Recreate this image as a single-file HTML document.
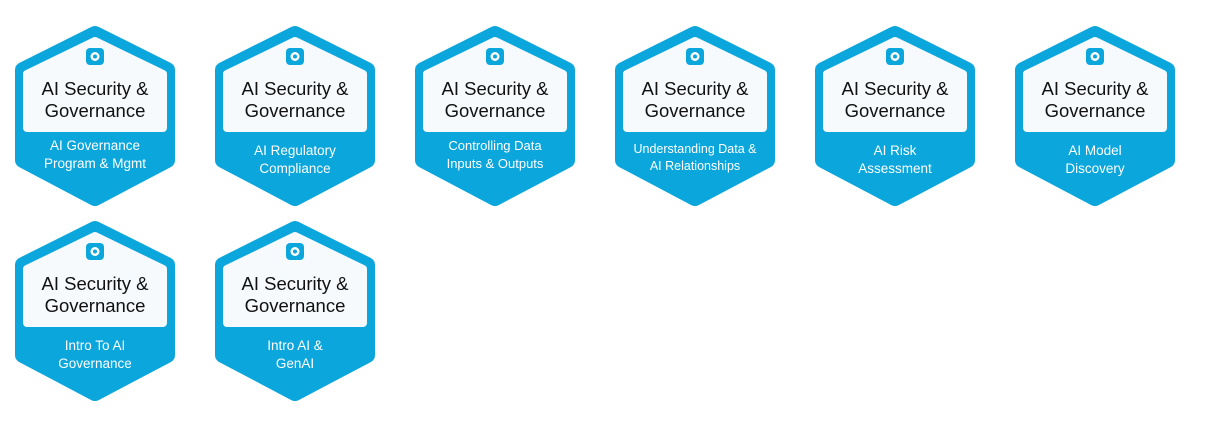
<!DOCTYPE html>
<html><head><meta charset="utf-8"><style>
html,body{margin:0;padding:0;background:#fff;width:1230px;height:430px;overflow:hidden}
svg{display:block}
text{font-family:"Liberation Sans",sans-serif;text-anchor:middle}
.t{font-size:18.5px;fill:#111}
.s{fill:#fff}
</style></head><body>
<svg width="1230" height="430" viewBox="0 0 1230 430">
<defs>
<g id="b">
<polygon points="95,34 167,70 167,160 95,198 23,160 23,70" fill="#0aa6dc" stroke="#0aa6dc" stroke-width="16" stroke-linejoin="round"/>
<polygon points="95,41 163,74 163,128 27,128 27,74" fill="#f7fafc" stroke="#f7fafc" stroke-width="8" stroke-linejoin="round"/>
<rect x="86" y="48" width="18" height="17" rx="4" fill="#0aa6dc"/>
<circle cx="95" cy="56.5" r="4.5" fill="#fff"/>
<circle cx="95" cy="56.5" r="2" fill="#0aa6dc"/>
<text class="t" x="95" y="95">AI Security &amp;</text>
<text class="t" x="95" y="117">Governance</text>
</g>
</defs>
<g transform="translate(0,0)"><use href="#b"/><text class="s" font-size="13.5" x="95" y="150">AI Governance</text><text class="s" font-size="13.5" x="95" y="168">Program &amp; Mgmt</text></g>
<g transform="translate(200,0)"><use href="#b"/><text class="s" font-size="13.5" x="95" y="155">AI Regulatory</text><text class="s" font-size="13.5" x="95" y="173">Compliance</text></g>
<g transform="translate(400,0)"><use href="#b"/><text class="s" font-size="13" x="95" y="150">Controlling Data</text><text class="s" font-size="13" x="95" y="168">Inputs &amp; Outputs</text></g>
<g transform="translate(600,0)"><use href="#b"/><text class="s" font-size="12.5" x="95" y="153">Understanding Data &amp;</text><text class="s" font-size="12.5" x="95" y="170">AI Relationships</text></g>
<g transform="translate(800,0)"><use href="#b"/><text class="s" font-size="13.5" x="95" y="155">AI Risk</text><text class="s" font-size="13.5" x="95" y="173">Assessment</text></g>
<g transform="translate(1000,0)"><use href="#b"/><text class="s" font-size="13.5" x="95" y="155">AI Model</text><text class="s" font-size="13.5" x="95" y="173">Discovery</text></g>
<g transform="translate(0,195)"><use href="#b"/><text class="s" font-size="13.5" x="95" y="155">Intro To AI</text><text class="s" font-size="13.5" x="95" y="173">Governance</text></g>
<g transform="translate(200,195)"><use href="#b"/><text class="s" font-size="13.5" x="95" y="155">Intro AI &amp;</text><text class="s" font-size="13.5" x="95" y="173">GenAI</text></g>
</svg>
</body></html>
